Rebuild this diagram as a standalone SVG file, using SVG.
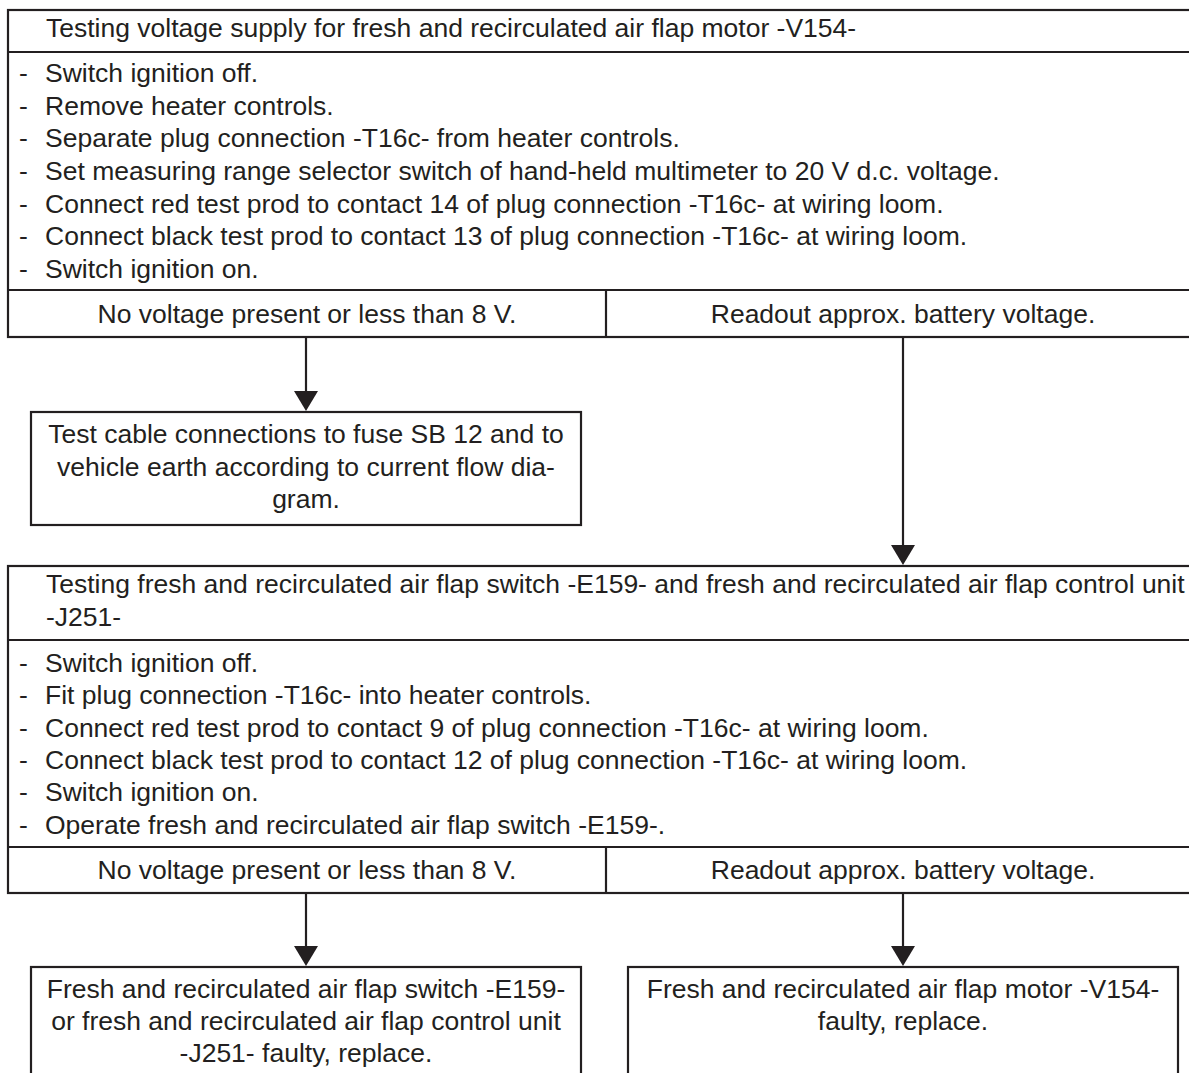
<svg xmlns="http://www.w3.org/2000/svg" width="1189" height="1073" viewBox="0 0 1189 1073">
<defs>
<style>
.box{fill:#fff;stroke:#231f20;stroke-width:2.2}
.ln{fill:none;stroke:#231f20;stroke-width:2.2}
.t{font-family:"Liberation Sans",Arial,Helvetica,sans-serif;font-size:26.5px;fill:#231f20}
.c{text-anchor:middle}
.conn{fill:none;stroke:#231f20;stroke-width:2.2;marker-end:url(#arrow)}
</style>
<marker id="arrow" markerUnits="userSpaceOnUse" markerWidth="20" markerHeight="24" refX="10" refY="12" orient="auto">
<path d="M0,0 L20,12 L0,24 Z" fill="#231f20"/>
</marker>
</defs>
<rect width="1189" height="1073" fill="#fff"/>

<g id="step1">
<rect class="box" x="8" y="10" width="1200" height="327"/>
<line class="ln" x1="8" y1="52" x2="1200" y2="52"/>
<line class="ln" x1="8" y1="290" x2="1200" y2="290"/>
<text class="t" x="46" y="37">Testing voltage supply for fresh and recirculated air flap motor -V154-</text>
<g class="t">
<text x="19" y="82">-</text><text x="45" y="82">Switch ignition off.</text>
<text x="19" y="114.7">-</text><text x="45" y="114.7">Remove heater controls.</text>
<text x="19" y="147.3">-</text><text x="45" y="147.3">Separate plug connection -T16c- from heater controls.</text>
<text x="19" y="180">-</text><text x="45" y="180">Set measuring range selector switch of hand-held multimeter to 20 V d.c. voltage.</text>
<text x="19" y="212.7">-</text><text x="45" y="212.7">Connect red test prod to contact 14 of plug connection -T16c- at wiring loom.</text>
<text x="19" y="245.3">-</text><text x="45" y="245.3">Connect black test prod to contact 13 of plug connection -T16c- at wiring loom.</text>
<text x="19" y="278">-</text><text x="45" y="278">Switch ignition on.</text>
</g>
</g>
<g id="step1-no">
<text class="t c" x="307" y="323">No voltage present or less than 8 V.</text>
</g>
<g id="step1-yes">
<line class="ln" x1="606" y1="290" x2="606" y2="337"/>
<text class="t c" x="903" y="323">Readout approx. battery voltage.</text>
</g>

<g id="fix-cables">
<rect class="box" x="31" y="412" width="550" height="113"/>
<text class="t c" x="306" y="443">Test cable connections to fuse SB 12 and to</text>
<text class="t c" x="306" y="475.5">vehicle earth according to current flow dia-</text>
<text class="t c" x="306" y="508">gram.</text>
</g>

<g id="step2">
<rect class="box" x="8" y="566" width="1200" height="327"/>
<line class="ln" x1="8" y1="640" x2="1200" y2="640"/>
<line class="ln" x1="8" y1="847" x2="1200" y2="847"/>
<text class="t" x="46" y="593">Testing fresh and recirculated air flap switch -E159- and fresh and recirculated air flap control unit</text>
<text class="t" x="46" y="626">-J251-</text>
<g class="t">
<text x="19" y="672">-</text><text x="45" y="672">Switch ignition off.</text>
<text x="19" y="704.3">-</text><text x="45" y="704.3">Fit plug connection -T16c- into heater controls.</text>
<text x="19" y="736.6">-</text><text x="45" y="736.6">Connect red test prod to contact 9 of plug connection -T16c- at wiring loom.</text>
<text x="19" y="768.9">-</text><text x="45" y="768.9">Connect black test prod to contact 12 of plug connection -T16c- at wiring loom.</text>
<text x="19" y="801.2">-</text><text x="45" y="801.2">Switch ignition on.</text>
<text x="19" y="833.5">-</text><text x="45" y="833.5">Operate fresh and recirculated air flap switch -E159-.</text>
</g>
</g>
<g id="step2-no">
<text class="t c" x="307" y="879">No voltage present or less than 8 V.</text>
</g>
<g id="step2-yes">
<line class="ln" x1="606" y1="847" x2="606" y2="893"/>
<text class="t c" x="903" y="879">Readout approx. battery voltage.</text>
</g>

<g id="replace-switch">
<rect class="box" x="31" y="967" width="550" height="130"/>
<text class="t c" x="306" y="998">Fresh and recirculated air flap switch -E159-</text>
<text class="t c" x="306" y="1030">or fresh and recirculated air flap control unit</text>
<text class="t c" x="306" y="1062">-J251- faulty, replace.</text>
</g>

<g id="replace-motor">
<rect class="box" x="628" y="967" width="550" height="130"/>
<text class="t c" x="903" y="998">Fresh and recirculated air flap motor -V154-</text>
<text class="t c" x="903" y="1030">faulty, replace.</text>
</g>

<g id="connectors">
<line class="conn" x1="306" y1="337" x2="306" y2="401"/>
<line class="conn" x1="903" y1="337" x2="903" y2="555"/>
<line class="conn" x1="306" y1="893" x2="306" y2="956"/>
<line class="conn" x1="903" y1="893" x2="903" y2="956"/>
</g>
</svg>
